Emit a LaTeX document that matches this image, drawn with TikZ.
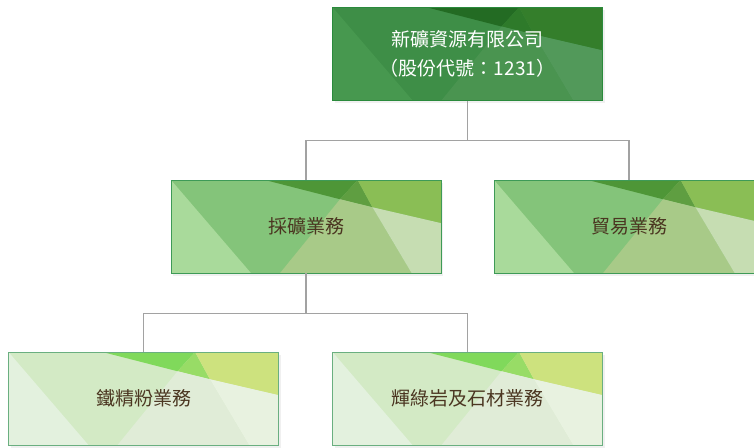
\documentclass[tikz,border=0pt]{standalone}
\usepackage{fontspec}
\usepackage{tikz}
\usetikzlibrary{calc, positioning}
\newfontfamily\tcfont{Noto Sans CJK TC}

% colour sets: main, left, wedge, mid, topright, lowmid, lowright, line
\definecolor{lvA-main}{HTML}{3E8E47}
\definecolor{lvA-left}{HTML}{47984F}
\definecolor{lvA-wedge}{HTML}{236B23}
\definecolor{lvA-mid}{HTML}{2E7A2A}
\definecolor{lvA-topright}{HTML}{347E2B}
\definecolor{lvA-lowmid}{HTML}{4A9450}
\definecolor{lvA-lowright}{HTML}{52995A}
\definecolor{lvA-line}{HTML}{2A8A3C}

\definecolor{lvB-main}{HTML}{84C47A}
\definecolor{lvB-left}{HTML}{A9DA9B}
\definecolor{lvB-wedge}{HTML}{4E9637}
\definecolor{lvB-mid}{HTML}{5F9E41}
\definecolor{lvB-topright}{HTML}{8ABE55}
\definecolor{lvB-lowmid}{HTML}{A8CA88}
\definecolor{lvB-lowright}{HTML}{C6DDB2}
\definecolor{lvB-line}{HTML}{3E9A57}

\definecolor{lvC-main}{HTML}{D3EAC5}
\definecolor{lvC-left}{HTML}{E3F1DE}
\definecolor{lvC-wedge}{HTML}{80D95B}
\definecolor{lvC-mid}{HTML}{98DC66}
\definecolor{lvC-topright}{HTML}{CDE27E}
\definecolor{lvC-lowmid}{HTML}{E0ECD7}
\definecolor{lvC-lowright}{HTML}{E8F2E0}
\definecolor{lvC-line}{HTML}{6AAF80}

\definecolor{textbrown}{HTML}{4B3621}
\definecolor{linkgray}{HTML}{A2A2A2}

\tikzset{
  orgnode/.style={minimum width=270pt, minimum height=93pt, inner sep=0pt,
    line width=0.9pt, align=center, font=\tcfont\fontsize{19}{29}\selectfont},
  link/.style={draw=linkgray, line width=1.5pt}
}

% #1 name, #2 centre, #3 colour set, #4 text colour, #5 text
\newcommand{\orgbox}[5]{%
  \begin{scope}[shift={(#2)}, x=270pt, y=-93pt, shift={(-0.5,-0.5)}]
    \fill[black, opacity=0.06] (0.008,0.03) rectangle (1.008,1.03);
    \fill[#3-main] (0,0) rectangle (1,1);
    \fill[#3-left] (0,0) -- (0.296,1) -- (0,1) -- cycle;
    \fill[#3-wedge] (0.348,0) -- (0.691,0) -- (0.626,0.207) -- cycle;
    \fill[#3-mid] (0.626,0.207) -- (0.691,0) -- (0.746,0.293) -- cycle;
    \fill[#3-topright] (0.691,0) -- (1,0) -- (1,0.464) -- (0.746,0.293) -- cycle;
    \fill[#3-lowmid] (0.404,1) -- (0.626,0.207) -- (0.746,0.293) -- (0.891,1) -- cycle;
    \fill[#3-lowright] (0.746,0.293) -- (1,0.464) -- (1,1) -- (0.891,1) -- cycle;
  \end{scope}
  \node[orgnode, draw=#3-line, text=#4] (#1) at (#2) {#5};
}

\begin{document}
\begin{tikzpicture}[x=1pt, y=-1pt]
  \useasboundingbox (0,0) rectangle (754,447);
  \clip (0,0) rectangle (754,447);

  % Boxes
  \orgbox{group}{467.5,53.75}{lvA}{white}{新礦資源有限公司\\（股份代號：1231）}
  \orgbox{mining}{306,226.5}{lvB}{textbrown}{採礦業務}
  \orgbox{trade}{629,226.5}{lvB}{textbrown}{貿易業務}
  \orgbox{ironore}{143.5,398.5}{lvC}{textbrown}{鐵精粉業務}
  \orgbox{diabase}{467.5,398.5}{lvC}{textbrown}{輝綠岩及石材業務}

  % Connectors
  \coordinate (jtop) at ($(group.south)+(0,40)$);
  \draw[link] (group.south) -- (jtop);
  \draw[link] (jtop) -| (mining.north);
  \draw[link] (jtop) -| (trade.north);

  \coordinate (jmid) at ($(mining.south)+(0,40)$);
  \draw[link] (mining.south) -- (jmid);
  \draw[link] (jmid) -| (ironore.north);
  \draw[link] (jmid) -| (diabase.north);
\end{tikzpicture}
\end{document}
